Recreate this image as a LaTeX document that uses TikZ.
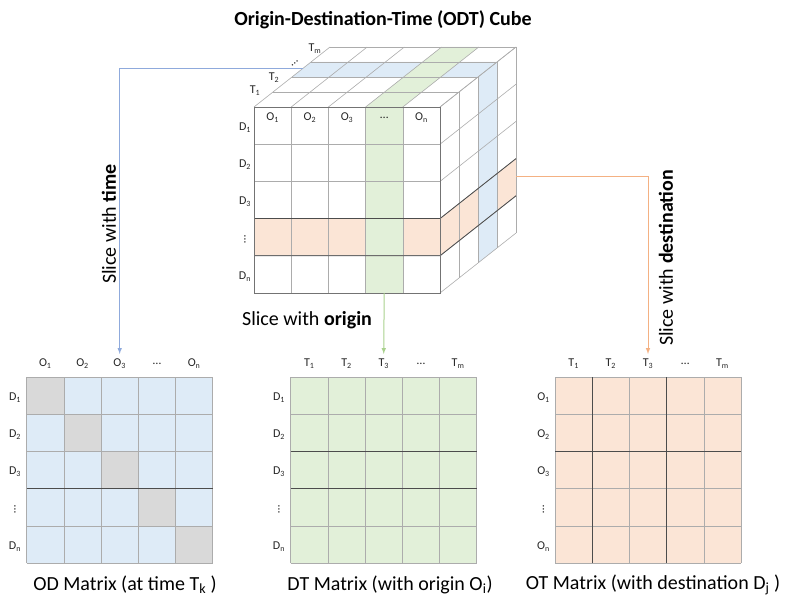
\documentclass[tikz,border=0pt]{standalone}
\usepackage{fontspec}
\setmainfont{Carlito}
\usepackage{tikz}
\definecolor{sliceblue}{RGB}{222,235,247}
\definecolor{slicegreen}{RGB}{226,240,217}
\definecolor{sliceorange}{RGB}{251,229,214}
\definecolor{diaggray}{RGB}{217,217,217}
\definecolor{arrowblue}{RGB}{143,170,220}
\definecolor{arrowgreen}{RGB}{169,209,142}
\definecolor{arroworange}{RGB}{244,177,131}
\usetikzlibrary{arrows}
\newcommand{\vdotslbl}{\rotatebox{90}{\ldots}}

\begin{document}
\begin{tikzpicture}[x=1pt, y=-1pt,
				>=latex,   %Pfeilspitzen
				gridline/.style={draw=gray!65, line width=0.6pt},
				heavyline/.style={draw=black!70, line width=0.8pt},
				edgeline/.style={draw=black!55, line width=0.8pt},
				slicearrow/.style={->, line width=1pt, shorten >=4pt},
				lbl/.style={font=\fontsize{12}{14}\selectfont, text=black!85, inner sep=1pt},
				captext/.style={font=\fontsize{20}{24}\selectfont, inner sep=0pt}]
				\useasboundingbox (0,0) rectangle (800,609);
				%Titel
				\node[captext, font=\fontsize{20}{24}\selectfont\bfseries] (title) at (383,20) {Origin-Destination-Time (ODT) Cube};
				%Wuerfel einfaerben
				\fill[sliceorange] (254,218.6) -- (440,218.6) -- (516,158.6) -- (516,195.8) -- (440,255.8) -- (254,255.8) -- cycle;
				\fill[sliceblue] (292,77) -- (478,77) -- (497,62) -- (311,62) -- cycle;
				\fill[sliceblue] (478,77) -- (497,62) -- (497,248) -- (478,263) -- cycle;
				\fill[slicegreen] (365.6,293) -- (365.6,107) -- (441.6,47) -- (478.8,47) -- (402.8,107) -- (402.8,293) -- cycle;
				%Wuerfel Raster
				\foreach \i in {0,...,5} {
					\draw[gridline] ({254+37.2*\i},107) -- ({254+37.2*\i},293);
					\draw[gridline] (254,{107+37.2*\i}) -- (440,{107+37.2*\i});
					\draw[gridline] ({254+37.2*\i},107) -- ({330+37.2*\i},47);
					\draw[gridline] (440,{107+37.2*\i}) -- (516,{47+37.2*\i});
				}
				\foreach \k in {1,...,4} {
					\draw[gridline] ({254+19*\k},{107-15*\k}) -- ({440+19*\k},{107-15*\k});
					\draw[gridline] ({440+19*\k},{107-15*\k}) -- ({440+19*\k},{293-15*\k});
				}
				\draw[heavyline] (254,218.6) -- (440,218.6) -- (516,158.6);
				\draw[heavyline] (254,255.8) -- (440,255.8) -- (516,195.8);
				\draw[edgeline] (254,107) rectangle (440,293);
				%Wuerfel beschriften
				\foreach \i/\t in {1/{O\textsubscript{1}}, 2/{O\textsubscript{2}}, 3/{O\textsubscript{3}}, 4/{\ldots}, 5/{O\textsubscript{n}}}
					\node[lbl] (cube-o\i) at ({254+37.2*(\i-0.5)},118) {\t};
				\foreach \i/\t in {1/{D\textsubscript{1}}, 2/{D\textsubscript{2}}, 3/{D\textsubscript{3}}, 4/{\vdotslbl}, 5/{D\textsubscript{n}}}
					\node[lbl] (cube-d\i) at (245,{107+37.2*(\i-0.5)+2}) {\t};
				\node[lbl] (cube-t1) at (255,91) {T\textsubscript{1}};
				\node[lbl] (cube-t2) at (274,78) {T\textsubscript{2}};
				\node[lbl, rotate=40] (cube-t3) at (295,63) {\ldots};
				\node[lbl] (cube-tm) at (315,49) {T\textsubscript{m}};
				\coordinate (tslice) at (303,68.5);
				\coordinate (oslice) at (384.2,293);
				\coordinate (dslice) at (516,176.5);
				%OD Matrix
				\fill[sliceblue] (26.7,377) rectangle (212.7,563);
				\foreach \i in {0,...,4} \fill[diaggray] ({26.7+37.2*\i},{377+37.2*\i}) rectangle +(37.2,37.2);
				\foreach \i in {0,...,5} {
					\draw[gridline] ({26.7+37.2*\i},377) -- ({26.7+37.2*\i},563);
					\draw[gridline] (26.7,{377+37.2*\i}) -- (212.7,{377+37.2*\i});
				}
				\draw[heavyline] (26.7,488.6) -- (212.7,488.6);
				\foreach \i/\t in {1/{O\textsubscript{1}}, 2/{O\textsubscript{2}}, 3/{O\textsubscript{3}}, 4/{\ldots}, 5/{O\textsubscript{n}}}
					\node[lbl] (od-c\i) at ({26.7+37.2*(\i-0.5)},364) {\t};
				\foreach \i/\t in {1/{D\textsubscript{1}}, 2/{D\textsubscript{2}}, 3/{D\textsubscript{3}}, 4/{\vdotslbl}, 5/{D\textsubscript{n}}}
					\node[lbl] (od-r\i) at (15,{377+37.2*(\i-0.5)+2}) {\t};
				\node[captext] (od-title) at (125,585) {OD Matrix (at time T\textsubscript{k} )};
				%DT Matrix
				\fill[slicegreen] (290.7,377) rectangle (476.7,563);
				\foreach \i in {0,...,5} {
					\draw[gridline] ({290.7+37.2*\i},377) -- ({290.7+37.2*\i},563);
					\draw[gridline] (290.7,{377+37.2*\i}) -- (476.7,{377+37.2*\i});
				}
				\draw[heavyline] (290.7,451.4) -- (476.7,451.4);
				\draw[heavyline] (290.7,488.6) -- (476.7,488.6);
				\foreach \i/\t in {1/{T\textsubscript{1}}, 2/{T\textsubscript{2}}, 3/{T\textsubscript{3}}, 4/{\ldots}, 5/{T\textsubscript{m}}}
					\node[lbl] (dt-c\i) at ({290.7+37.2*(\i-0.5)},364) {\t};
				\foreach \i/\t in {1/{D\textsubscript{1}}, 2/{D\textsubscript{2}}, 3/{D\textsubscript{3}}, 4/{\vdotslbl}, 5/{D\textsubscript{n}}}
					\node[lbl] (dt-r\i) at (279,{377+37.2*(\i-0.5)+2}) {\t};
				\node[captext] (dt-title) at (390,585) {DT Matrix (with origin O\textsubscript{i})};
				%OT Matrix
				\fill[sliceorange] (555,377) rectangle (741,563);
				\foreach \i in {0,...,5} {
					\draw[gridline] ({555+37.2*\i},377) -- ({555+37.2*\i},563);
					\draw[gridline] (555,{377+37.2*\i}) -- (741,{377+37.2*\i});
				}
				\draw[heavyline] (592.2,377) -- (592.2,563);
				\draw[heavyline] (666.6,377) -- (666.6,563);
				\draw[heavyline] (555,451.4) -- (741,451.4);
				\foreach \i/\t in {1/{T\textsubscript{1}}, 2/{T\textsubscript{2}}, 3/{T\textsubscript{3}}, 4/{\ldots}, 5/{T\textsubscript{m}}}
					\node[lbl] (ot-c\i) at ({555+37.2*(\i-0.5)},364) {\t};
				\foreach \i/\t in {1/{O\textsubscript{1}}, 2/{O\textsubscript{2}}, 3/{O\textsubscript{3}}, 4/{\vdotslbl}, 5/{O\textsubscript{n}}}
					\node[lbl] (ot-r\i) at (543.5,{377+37.2*(\i-0.5)+2}) {\t};
				\node[captext] (ot-title) at (653,585) {OT Matrix (with destination D\textsubscript{j} )};
				%Schnitte
				\draw[slicearrow, arrowblue] (tslice) -| (od-c3.north);
				\draw[slicearrow, arrowgreen] (oslice) -- (dt-c3.north);
				\draw[slicearrow, arroworange] (dslice) -| (ot-c3.north);
				\node[captext, rotate=90] (time-lbl) at (109,224) {Slice with \textbf{time}};
				\node[captext] (origin-lbl) at (307,320) {Slice with \textbf{origin}};
				\node[captext, rotate=90] (dest-lbl) at (666,258) {Slice with \textbf{destination}};
			\end{tikzpicture}
\end{document}
